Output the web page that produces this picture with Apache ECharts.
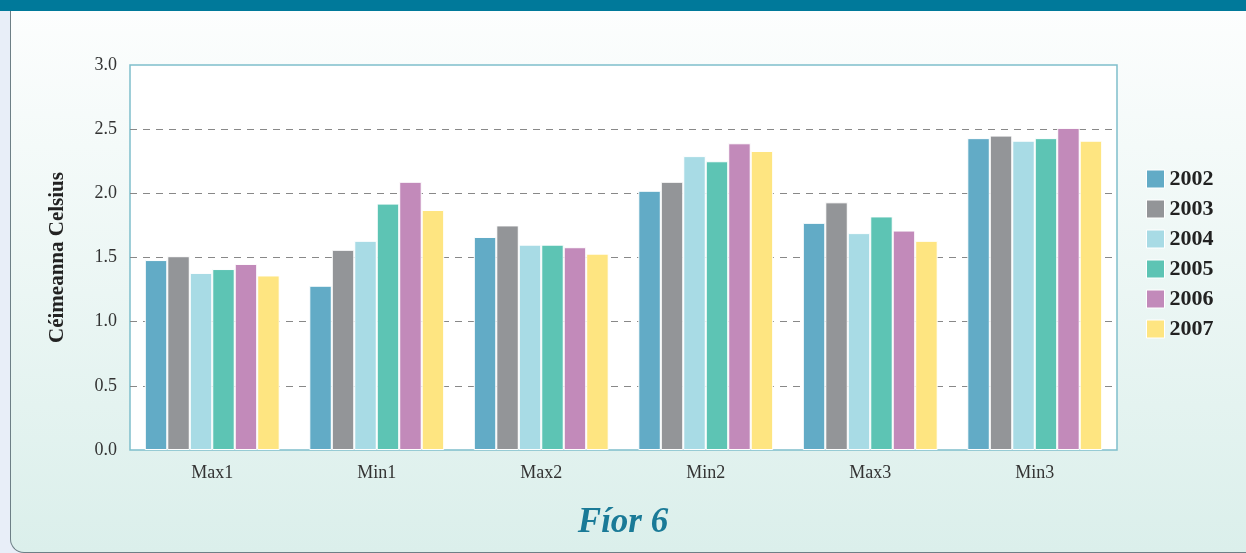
<!DOCTYPE html>
<html>
<head>
<meta charset="utf-8">
<style>
  html, body { margin: 0; padding: 0; background: #e8eef8; }
  #panel {
    position: absolute; left: 10px; top: 0; width: 1240px; height: 552px;
    border-left: 1.5px solid #6d7f86; border-bottom: 1.5px solid #6d7f86;
    border-bottom-left-radius: 14px;
    background: linear-gradient(#fdfefe, #dbefeb);
  }
  #topbar { position: absolute; left: 0; top: 0; width: 1246px; height: 11px; background: #00799a; }
  #main { position: absolute; left: 0; top: 0; width: 1246px; height: 553px; }
</style>
</head>
<body>
<div id="panel"></div>
<div id="topbar"></div>
<div id="main"></div>
<script src="https://cdn.jsdelivr.net/npm/echarts@6/dist/echarts.min.js"></script>
<script>
  // 类别与年份
  var categories = ['Max1', 'Min1', 'Max2', 'Min2', 'Max3', 'Min3'];
  var years = ['2002', '2003', '2004', '2005', '2006', '2007'];
  var colors = ['#62abc6', '#939598', '#a8dbe5', '#5dc4b4', '#c28aba', '#fee581'];

  var v2002 = [1.48, 1.28, 1.66, 2.02, 1.77, 2.43];
  var v2003 = [1.51, 1.56, 1.75, 2.09, 1.93, 2.45];
  var v2004 = [1.38, 1.63, 1.60, 2.29, 1.69, 2.41];
  var v2005 = [1.41, 1.92, 1.60, 2.25, 1.82, 2.43];
  var v2006 = [1.45, 2.09, 1.58, 2.39, 1.71, 2.51];
  var v2007 = [1.36, 1.87, 1.53, 2.33, 1.63, 2.41];
  var values = [v2002, v2003, v2004, v2005, v2006, v2007];

  var serif = '"Liberation Serif", "DejaVu Serif", serif';
  var myChart = echarts.init(document.getElementById('main'));

  myChart.setOption({
    animation: false,
    color: colors,
    title: {
      text: 'Fíor 6',
      left: 'center',
      top: 500,
      textStyle: { fontFamily: serif, fontStyle: 'italic', fontWeight: 'bold', fontSize: 35, color: '#1a7a97' }
    },
    legend: {
      orient: 'vertical',
      left: 1141,
      top: 163,
      itemWidth: 18,
      itemHeight: 18,
      itemGap: 8,
      icon: 'rect',
      data: years,
      itemStyle: { borderColor: '#fff', borderWidth: 1 },
      textStyle: { fontFamily: serif, fontWeight: 'bold', fontSize: 22, color: '#222' }
    },
    grid: {
      left: 130, top: 65, right: 129, bottom: 103,
      show: true, backgroundColor: '#fff', borderColor: '#7fbfcc', borderWidth: 1.5
    },
    xAxis: {
      type: 'category',
      data: categories,
      axisLine: { show: false },
      axisTick: { show: false },
      axisLabel: { fontFamily: serif, fontSize: 18, color: '#333', margin: 14 }
    },
    yAxis: {
      type: 'value',
      min: 0, max: 3, interval: 0.5,
      name: 'Céimeanna Celsius',
      nameLocation: 'middle',
      nameGap: 62,
      nameTextStyle: { fontFamily: serif, fontWeight: 'bold', fontSize: 21, color: '#222' },
      axisLine: { show: false },
      axisTick: { show: false },
      axisLabel: {
        fontFamily: serif, fontSize: 18, color: '#333', margin: 13,
        formatter: function (v) { return v.toFixed(1); }
      },
      splitLine: { showMinLine: false, showMaxLine: false, lineStyle: { color: '#888', width: 1.2, type: [7, 6] } }
    },
    series: years.map(function (y, i) {
      return {
        name: y,
        type: 'bar',
        data: values[i],
        barGap: '0%',
        barCategoryGap: '18%',
        itemStyle: { color: colors[i], borderColor: '#fff', borderWidth: 1 }
      };
    })
  });
</script>
</body>
</html>
